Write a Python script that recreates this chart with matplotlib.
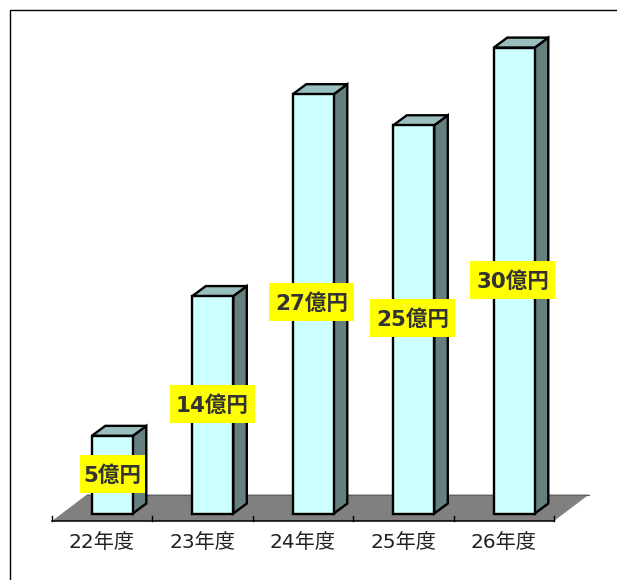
import matplotlib
matplotlib.use("Agg")
import matplotlib.pyplot as plt
from matplotlib.patches import Polygon, Rectangle

plt.rcParams['font.family'] = ['DejaVu Sans', 'Noto Sans CJK JP']

categories = ['22年度', '23年度', '24年度', '25年度', '26年度']
values = [5, 14, 27, 25, 30]
value_labels = ['5億円', '14億円', '27億円', '25億円', '30億円']

W, H = 617, 580
PX_X = 100.5      # pixels per category
PX_Y = 15.53      # pixels per 1 oku-yen
X0, Y0 = 112.3, 513.5

fig = plt.figure(figsize=(W / 100, H / 100), dpi=100)
ax = fig.add_axes([0, 0, 1, 1])
ax.set_xlim(-X0 / PX_X, (W - X0) / PX_X)
ax.set_ylim(-(H - Y0) / PX_Y, Y0 / PX_Y)
ax.axis('off')

px = lambda p: (p - X0) / PX_X          # pixel x -> data
py = lambda p: (Y0 - p) / PX_Y          # pixel y -> data

# outer frame (top and left only)
ax.plot([px(10), px(10), px(617)], [py(580), py(10), py(10)],
        color='black', lw=1.0, solid_joinstyle='miter', zorder=1)

# floor
ax.add_patch(Polygon([(px(52), py(521)), (px(554), py(521)), (px(589), py(494.5)), (px(87), py(494.5))],
                     closed=True, fc='#808080', ec='none', zorder=1))
ax.plot([px(87), px(589)], [py(494.5), py(494.5)], color='#606060', lw=0.8, zorder=1)
ax.plot([px(52), px(554)], [py(521), py(521)], color='black', lw=1.1, zorder=2)
for i in range(len(categories) + 1):
    xt = px(52) + i * (px(554) - px(52)) / len(categories)
    ax.plot([xt, xt], [py(521), py(516)], color='black', lw=1.0, zorder=2)

# 3-D bars
bw = 41 / PX_X
dx = 13.5 / PX_X
dy = 10 / PX_Y
for i, v in enumerate(values):
    l = i - bw / 2
    r = i + bw / 2
    kw = dict(closed=True, ec='black', lw=1.7, joinstyle='miter', zorder=3)
    ax.add_patch(Polygon([(r, 0), (r + dx, dy), (r + dx, v + dy), (r, v)], fc='#668080', **kw))
    ax.add_patch(Polygon([(l, v), (l + dx, v + dy), (r + dx, v + dy), (r, v)], fc='#99BFBF', **kw))
    ax.add_patch(Polygon([(l, 0), (r, 0), (r, v), (l, v)], fc='#CCFFFF', **kw))

# value labels
box_w = [65, 85, 85, 85, 85]
box_h = 38
label_x = [112.5, 212.5, 311.5, 412.5, 512.5]
label_y = [474, 404, 302, 318, 280]
for xc, yc, bwid, t in zip(label_x, label_y, box_w, value_labels):
    ax.add_patch(Rectangle((px(xc - bwid / 2), py(yc + box_h / 2)), bwid / PX_X, box_h / PX_Y,
                           fc='#FFFF00', ec='none', zorder=4))
    ax.text(px(xc), py(yc + 1.5), t, ha='center', va='center', fontsize=15.5,
            fontweight='bold', color='#333333', zorder=5)

# category labels
for i, c in enumerate(categories):
    ax.text(px(102 + i * 100.4), py(542.5), c, ha='center', va='center',
            fontsize=14.5, color='#222222', zorder=5)

fig.savefig('out.png', dpi=100)
